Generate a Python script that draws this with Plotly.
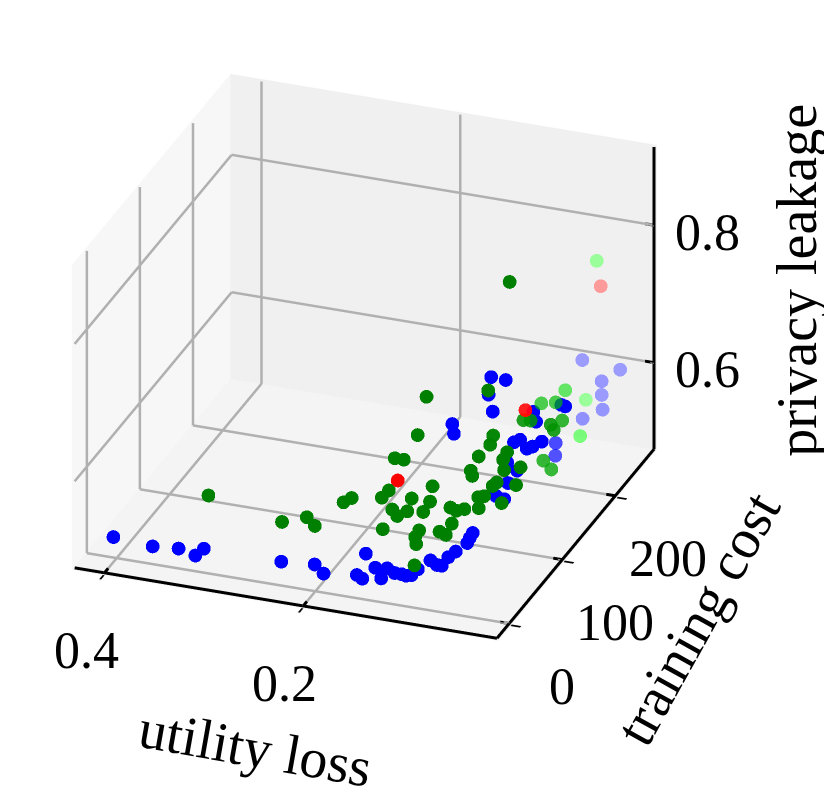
import numpy as np
import plotly.graph_objects as go

# values (utility loss, training cost, privacy leakage)
blue_utility = [0.405, 0.365, 0.340, 0.322, 0.314, 0.235, 0.202, 0.192, 0.152, 0.159, 0.153, 0.141, 0.134, 0.129,
                0.121, 0.114, 0.109, 0.104, 0.098, 0.086, 0.079, 0.074, 0.068, 0.061, 0.050, 0.048, 0.045,
                0.044, 0.039, 0.048, 0.042, 0.050, 0.058, 0.054, 0.044, 0.042, 0.046, 0.063, 0.066, 0.039, 0.039,
                0.066, 0.089, 0.089, 0.066, 0.054, 0.067, 0.028, 0.022, 0.065, 0.028, 0.044, 0.045, 0.042, 0.061]
blue_cost = [3, 2, 4, 2, 3, 1, 2, 0, 5, 1, 0, 2, 0, 2, 1, 1, 0, 1, 2, 3, 2, 2, 3, 4, 5, 6, 6,
             48, 54, 78, 84, 80, 108, 112, 106, 113, 138, 196, 201, 109, 114, 83, 50, 53, 80, 85, 77, 141, 137,
             250, 252, 247, 249, 245, 243]
blue_privacy = [0.501, 0.498, 0.499, 0.495, 0.506, 0.508, 0.511, 0.502, 0.536, 0.507, 0.504, 0.521, 0.509, 0.523,
                0.519, 0.519, 0.519, 0.520, 0.529, 0.544, 0.540, 0.540, 0.553, 0.562, 0.576, 0.583, 0.591,
                0.606, 0.597, 0.596, 0.610, 0.624, 0.625, 0.626, 0.621, 0.618, 0.601, 0.541, 0.517, 0.673, 0.654,
                0.691, 0.698, 0.681, 0.744, 0.738, 0.721, 0.656, 0.659, 0.611, 0.604, 0.588, 0.566, 0.549, 0.533]

green_utility = [0.351, 0.253, 0.236, 0.221, 0.214, 0.208, 0.176, 0.171, 0.151, 0.158,
                 0.152, 0.144, 0.195, 0.187, 0.156, 0.146, 0.147, 0.127, 0.127, 0.133,
                 0.115, 0.111, 0.111, 0.101, 0.095, 0.087, 0.090, 0.100, 0.093, 0.087,
                 0.103, 0.100, 0.110, 0.080, 0.073, 0.071, 0.104, 0.106,
                 0.082, 0.078, 0.069, 0.069, 0.072, 0.049, 0.053, 0.048, 0.085,
                 0.081, 0.075, 0.079, 0.064, 0.063, 0.053, 0.050, 0.051, 0.069, 0.062,
                 0.061, 0.056, 0.048, 0.050]
green_cost = [81, 36, 51, 38, 79, 83, 80, 84, 35, 66,
              64, 68, 140, 142, 110, 108, 82, 79, 66, 95,
              36, 21, 23, 1, 37, 34, 51, 67, 65, 69,
              111, 108, 139, 82, 80, 66, 155, 153,
              140, 125, 110, 96, 94, 95, 111, 66, 110,
              169, 171, 199, 198, 214, 168, 184, 170, 184, 186,
              249, 229, 81, 249]
green_privacy = [0.502, 0.529, 0.526, 0.529, 0.527, 0.531, 0.542, 0.550, 0.544, 0.542,
                 0.536, 0.541, 0.539, 0.537, 0.610, 0.670, 0.546, 0.549, 0.546, 0.555,
                 0.550, 0.555, 0.543, 0.535, 0.552, 0.552, 0.552, 0.558, 0.557, 0.557,
                 0.570, 0.566, 0.563, 0.564, 0.569, 0.565, 0.580, 0.568,
                 0.575, 0.579, 0.580, 0.575, 0.571, 0.577, 0.587, 0.578, 0.692,
                 0.595, 0.594, 0.592, 0.598, 0.601, 0.596, 0.588, 0.587, 0.525, 0.512,
                 0.555, 0.522, 0.886, 0.760]

red_utility = [0.168, 0.079, 0.046]
red_cost = [95, 169, 249]
red_privacy = [0.555, 0.610, 0.724]

x_ticks = [0.4, 0.2]
y_ticks = [0, 100, 200]
z_ticks = [0.6, 0.8]
x_range = [0.43, 0.005]
y_range = [-23, 273]
z_range = [0.474, 0.914]

font = "Liberation Serif, Times New Roman, serif"


def shaded(rgb, cost):
    # fade the far points a bit, like matplotlib's depth shading
    c = np.array(cost, dtype=float)
    alpha = 1 - 0.65 * np.clip((c - 150) / 100, 0, 1)
    return [f"rgba({rgb},{a:.2f})" for a in alpha]


def segments(pairs):
    xs, ys, zs = [], [], []
    for (a, b) in pairs:
        xs += [a[0], b[0], None]
        ys += [a[1], b[1], None]
        zs += [a[2], b[2], None]
    return xs, ys, zs


x_hi, x_lo = x_range
y_lo, y_hi = y_range
z_lo, z_hi = z_range

fig = go.Figure()

# grid lines on the three back panes
grid = []
for t in x_ticks:
    grid += [((t, y_lo, z_lo), (t, y_hi, z_lo)), ((t, y_hi, z_lo), (t, y_hi, z_hi))]
for t in y_ticks:
    grid += [((x_lo, t, z_lo), (x_hi, t, z_lo)), ((x_hi, t, z_lo), (x_hi, t, z_hi))]
for t in z_ticks:
    grid += [((x_hi, y_lo, t), (x_hi, y_hi, t)), ((x_hi, y_hi, t), (x_lo, y_hi, t))]
gx, gy, gz = segments(grid)
fig.add_trace(go.Scatter3d(x=gx, y=gy, z=gz, mode="lines", line=dict(color="#b0b0b0", width=5),
                           showlegend=False, hoverinfo="skip"))

# axis lines, with the inner half of each tick mark
axes = [((x_hi, y_lo, z_lo), (x_lo, y_lo, z_lo)),
        ((x_lo, y_lo, z_lo), (x_lo, y_hi, z_lo)),
        ((x_lo, y_hi, z_lo), (x_lo, y_hi, z_hi))]
for t in x_ticks:
    axes.append(((t, y_lo, z_lo), (t, y_lo + 7, z_lo)))
for t in y_ticks:
    axes.append(((x_lo, t, z_lo), (x_lo + 0.009, t, z_lo)))
for t in z_ticks:
    axes.append(((x_lo, y_hi, t), (x_lo + 0.009, y_hi, t)))
ax_x, ax_y, ax_z = segments(axes)
fig.add_trace(go.Scatter3d(x=ax_x, y=ax_y, z=ax_z, mode="lines", line=dict(color="black", width=6),
                           showlegend=False, hoverinfo="skip"))

for ux, cy, pz, rgb in [(blue_utility, blue_cost, blue_privacy, "0,0,255"),
                        (green_utility, green_cost, green_privacy, "0,128,0"),
                        (red_utility, red_cost, red_privacy, "255,0,0")]:
    fig.add_trace(go.Scatter3d(
        x=ux, y=cy, z=pz, mode="markers",
        marker=dict(size=8, color=shaded(rgb, cy), line=dict(width=0)),
        showlegend=False, hoverinfo="skip",
    ))

axis_common = dict(
    title=dict(text=""),
    showbackground=True,
    showgrid=False, showline=False, showticklabels=False,
    ticks="outside", ticklen=10, tickcolor="black", tickwidth=4,
    zeroline=False, showspikes=False,
)

# tick labels as scene annotations so they sit where matplotlib put them
tick_font = dict(family=font, size=52, color="black")
scene_ann = []
for t in x_ticks:
    scene_ann.append(dict(x=t, y=-20, z=0.48, text=f"{t:.1f}", showarrow=False,
                          xshift=-20, yshift=-84, font=tick_font))
for t in y_ticks:
    scene_ann.append(dict(x=0.01, y=t, z=0.48, text=f"{t}", showarrow=False,
                          xshift=58, yshift=-68, font=tick_font))
for t in z_ticks:
    scene_ann.append(dict(x=0.01, y=270, z=t, text=f"{t:.1f}", showarrow=False,
                          xshift=60, yshift=-6, font=tick_font))

# panes sit a hair outside the box so lines drawn on them stay visible
fig.update_layout(
    width=832, height=798,
    paper_bgcolor="white",
    margin=dict(l=0, r=0, t=0, b=0),
    font=dict(family=font, color="black"),
    scene=dict(
        domain=dict(x=[0.0, 1.0], y=[0.0, 1.0]),
        xaxis=dict(axis_common, range=[x_hi + 0.002, x_lo - 0.002], tickvals=x_ticks,
                   backgroundcolor="rgb(247,247,247)"),
        yaxis=dict(axis_common, range=[y_lo - 1.5, y_hi + 1.5], tickvals=y_ticks,
                   backgroundcolor="rgb(240,240,240)"),
        zaxis=dict(axis_common, range=[z_lo - 0.002, z_hi + 0.002], ticks="",
                   backgroundcolor="rgb(244,244,244)"),
        aspectmode="manual",
        aspectratio=dict(x=1.14, y=1.14, z=0.855),
        camera=dict(eye=dict(x=0.658, y=-1.3395, z=0.605),
                    center=dict(x=0.159, y=0.0015, z=-0.112),
                    projection=dict(type="orthographic")),
        annotations=scene_ann,
    ),
    annotations=[
        dict(text="utility loss", x=0.298, y=0.073, xref="paper", yref="paper", xanchor="center",
             yanchor="middle", showarrow=False, textangle=10, font=dict(size=56)),
        dict(text="training cost", x=0.829, y=0.236, xref="paper", yref="paper", xanchor="center",
             yanchor="middle", showarrow=False, textangle=-61, font=dict(size=56)),
        dict(text="privacy leakage", x=0.948, y=0.659, xref="paper", yref="paper", xanchor="center",
             yanchor="middle", showarrow=False, textangle=-90, font=dict(size=56)),
    ],
)

fig.write_html("out.html")
